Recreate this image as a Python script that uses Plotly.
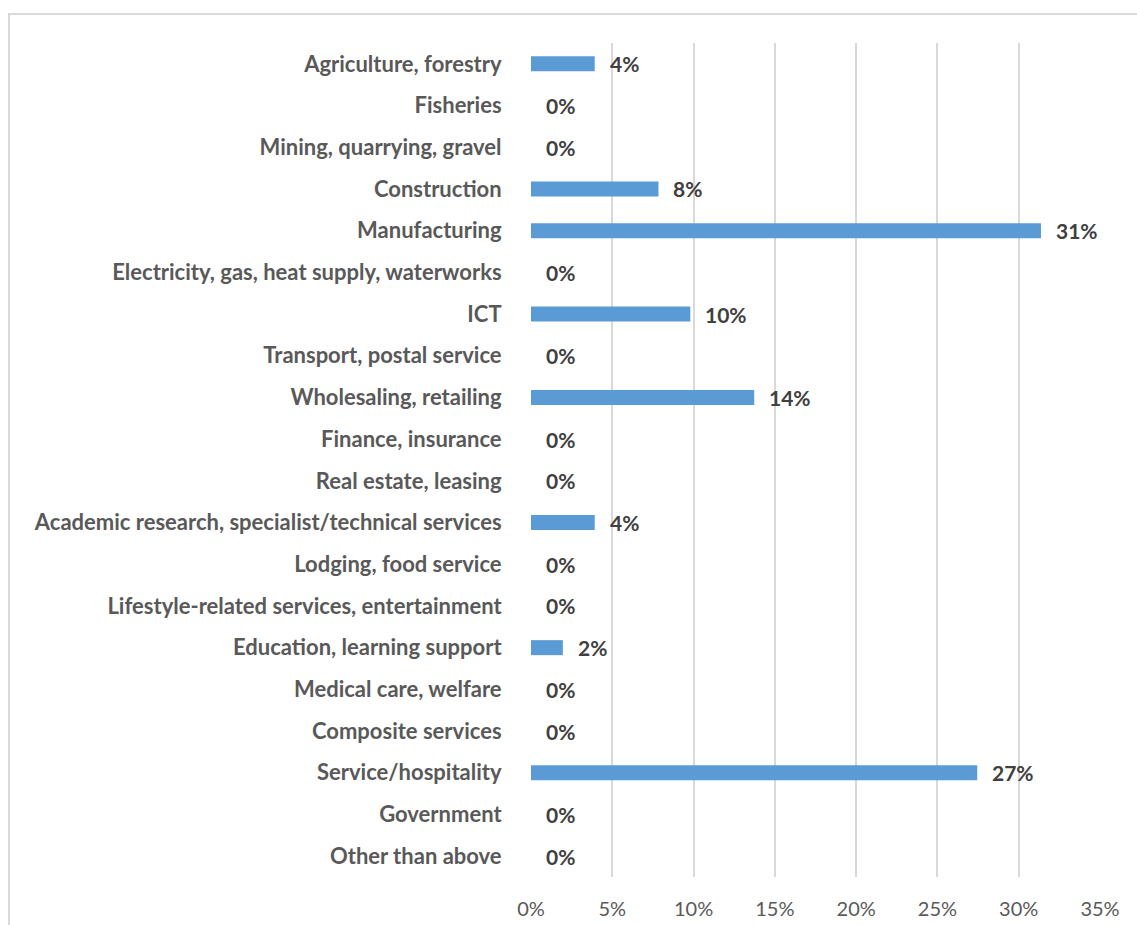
import plotly.graph_objects as go

# Industry categories, top to bottom
categories = [
    "Agriculture, forestry",
    "Fisheries",
    "Mining, quarrying, gravel",
    "Construction",
    "Manufacturing",
    "Electricity, gas, heat supply, waterworks",
    "ICT",
    "Transport, postal service",
    "Wholesaling, retailing",
    "Finance, insurance",
    "Real estate, leasing",
    "Academic research, specialist/technical services",
    "Lodging, food service",
    "Lifestyle-related services, entertainment",
    "Education, learning support",
    "Medical care, welfare",
    "Composite services",
    "Service/hospitality",
    "Government",
    "Other than above",
]

# Share of respondents per industry (fractions)
shares = [
    0.0392, 0.0, 0.0, 0.0784, 0.3137, 0.0, 0.0980, 0.0, 0.1373, 0.0,
    0.0, 0.0392, 0.0, 0.0, 0.0196, 0.0, 0.0, 0.2745, 0.0, 0.0,
]

tick_values = [0, 0.05, 0.10, 0.15, 0.20, 0.25, 0.30, 0.35]
tick_labels = ["0%", "5%", "10%", "15%", "20%", "25%", "30%", "35%"]

FONT = "Lato"
BAR_COLOR = "#5B9BD5"

fig = go.Figure()
fig.add_trace(go.Bar(
    x=shares,
    y=categories,
    orientation="h",
    marker=dict(color=BAR_COLOR, line=dict(width=0)),
    width=0.36,
    hoverinfo="skip",
))

# Value labels to the right of each bar
for cat, val in zip(categories, shares):
    fig.add_annotation(
        x=val, y=cat, xref="x", yref="y",
        text=f"<b>{val:.0%}</b>",
        showarrow=False, xanchor="left", yanchor="middle",
        xshift=13, yshift=0,
        font=dict(family=FONT, size=21, color="#404040"),
    )

# Light frame around the chart area
fig.add_shape(
    type="rect", xref="paper", yref="paper",
    x0=-0.9174, x1=1.2, y0=-0.2, y1=1.0348,
    line=dict(color="#D9D9D9", width=2), fillcolor="rgba(0,0,0,0)",
    layer="below",
)

fig.update_layout(
    width=1137, height=925,
    margin=dict(l=531, r=37, t=43, b=48, autoexpand=False),
    paper_bgcolor="white", plot_bgcolor="white",
    showlegend=False,
    bargap=0.64,
    xaxis=dict(
        range=[0, 0.35],
        tickvals=tick_values, ticktext=tick_labels,
        showgrid=True, gridcolor="#D9D9D9", gridwidth=1.5,
        zeroline=False, showline=False,
        ticks="outside", ticklen=14, tickcolor="rgba(0,0,0,0)",
        tickfont=dict(family=FONT, size=20, color="#595959"),
        automargin=False,
        fixedrange=True,
    ),
    yaxis=dict(
        autorange="reversed",
        showgrid=False, zeroline=False, showline=False,
        ticks="outside", ticklen=24, tickcolor="rgba(0,0,0,0)",
        tickfont=dict(family=FONT, size=22, color="#595959", weight="bold"),
        automargin=False,
        fixedrange=True,
    ),
)

fig.write_html("out.html")
